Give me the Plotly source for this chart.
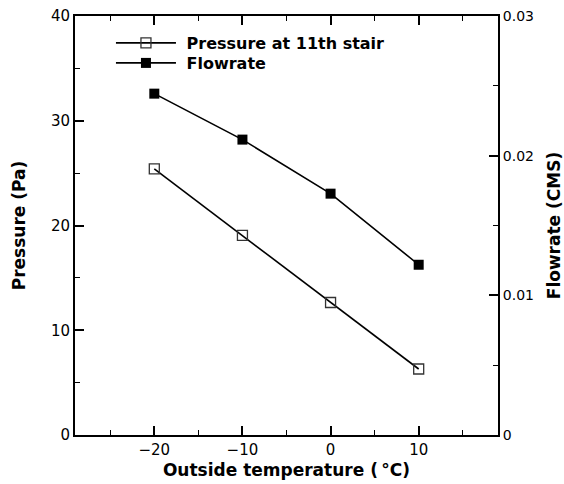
import plotly.graph_objects as go

temps = [-20, -10, 0, 10]
pressure = [25.4, 19.05, 12.65, 6.3]
flowrate = [0.02444, 0.02115, 0.01728, 0.01219]

x_ticks = [-20, -10, 0, 10]
y_ticks = [0, 10, 20, 30, 40]
y2_ticks = [0, 0.01, 0.02, 0.03]
y2_labels = ["0", "0.01", "0.02", "0.03"]

fig = go.Figure()
fig.add_trace(go.Scatter(
    x=temps, y=pressure, name="\u00a0Pressure at 11th stair", mode="lines+markers",
    line=dict(color="black", width=1.6),
    marker=dict(symbol="square-open", size=10, color="#333333", line=dict(width=1.3)),
    legend="legend",
))
fig.add_trace(go.Scatter(
    x=temps, y=flowrate, name="\u00a0Flowrate", mode="lines+markers", yaxis="y2",
    line=dict(color="black", width=1.6),
    marker=dict(symbol="square", size=10, color="black"),
    legend="legend2",
))

tick_font = dict(family="DejaVu Sans, sans-serif", size=15, color="black")
tick_font2 = dict(family="DejaVu Sans, sans-serif", size=14, color="black")
title_font = dict(family="DejaVu Sans, sans-serif", size=17, color="black", weight="bold")
legend_font = dict(family="DejaVu Sans, sans-serif", size=16, color="black", weight="bold")

fig.update_layout(
    width=564, height=484,
    margin=dict(l=75, r=66, t=16, b=49),
    plot_bgcolor="white", paper_bgcolor="white",
    font=tick_font,
    showlegend=True,
    legend=dict(
        x=0.085, y=0.9356, xanchor="left", yanchor="middle",
        bgcolor="rgba(0,0,0,0)", itemwidth=60, font=legend_font,
    ),
    legend2=dict(
        x=0.085, y=0.8878, xanchor="left", yanchor="middle",
        bgcolor="rgba(0,0,0,0)", itemwidth=60, font=legend_font,
    ),
    xaxis=dict(
        range=[-29, 19], tickvals=x_ticks, ticks="inside", ticklen=9, tickwidth=2,
        tickcolor="black", showline=True, linecolor="black", linewidth=2,
        mirror="ticks", showgrid=False, zeroline=False, automargin=False,
        minor=dict(dtick=5, tick0=0, ticks="inside", ticklen=5, tickwidth=1, tickcolor="black"),
        title=dict(text="Outside temperature (\u2009°C)", font=title_font, standoff=6),
        tickfont=tick_font,
    ),
    yaxis=dict(
        range=[0, 40], tickvals=y_ticks, ticks="inside", ticklen=9, tickwidth=2,
        tickcolor="black", showline=True, linecolor="black", linewidth=2,
        showgrid=False, zeroline=False, automargin=False,
        minor=dict(dtick=5, tick0=0, ticks="inside", ticklen=5, tickwidth=1, tickcolor="black"),
        title=dict(text="Pressure (Pa)", font=title_font, standoff=21),
        tickfont=tick_font,
    ),
    yaxis2=dict(
        range=[0, 0.03], tickvals=y2_ticks, ticktext=y2_labels, overlaying="y", side="right",
        ticks="inside", ticklen=9, tickwidth=2, tickcolor="black",
        showline=True, linecolor="black", linewidth=2, showgrid=False, zeroline=False,
        automargin=False,
        minor=dict(dtick=0.005, tick0=0, ticks="inside", ticklen=5, tickwidth=1, tickcolor="black"),
        title=dict(text="Flowrate (CMS)", font=title_font, standoff=15),
        tickfont=tick_font2,
    ),
)

fig.write_html("out.html")
